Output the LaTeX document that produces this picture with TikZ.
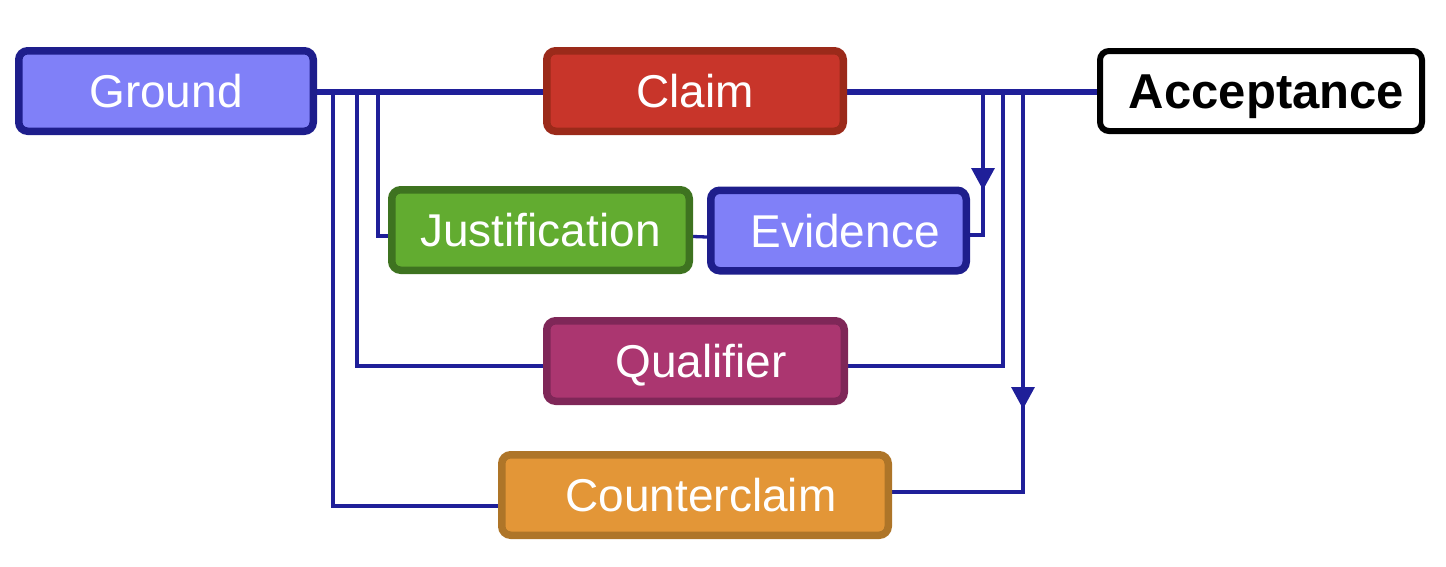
\documentclass[tikz,border=0pt]{standalone}
\usepackage{fontspec}
\setmainfont{Liberation Sans}
\usetikzlibrary{arrows.meta,decorations.markings,backgrounds}
\definecolor{lineblue}{HTML}{1F1F99}
\definecolor{gfill}{HTML}{8080F8}
\definecolor{gdraw}{HTML}{1E1E8C}
\definecolor{cfill}{HTML}{C8352A}
\definecolor{cdraw}{HTML}{9B2A1A}
\definecolor{jfill}{HTML}{62AC30}
\definecolor{jdraw}{HTML}{3E7320}
\definecolor{qfill}{HTML}{AB3670}
\definecolor{qdraw}{HTML}{7F2758}
\definecolor{kfill}{HTML}{E39637}
\definecolor{kdraw}{HTML}{AE7528}
\tikzset{
  box/.style={rounded corners=9pt, line width=7.5pt, inner sep=0pt,
    minimum height=80.5pt, text height=33pt, text depth=0pt,
    font=\fontsize{46}{50}\selectfont, text=white},
  mainline/.style={draw=lineblue, line width=5.5pt},
  thinline/.style={draw=lineblue, line width=3.3pt},
  tipat/.style={postaction={decorate}, decoration={markings,
    mark=at position #1 with {\arrow{Triangle[width=23pt,length=22pt]}}}}
}
\begin{document}
\begin{tikzpicture}[x=1pt,y=1pt]
\useasboundingbox (0,0) rectangle (1446,-566);
\node[box, fill=gfill, draw=gdraw, minimum width=294.5pt] (ground) at (166,-91) {Ground};
\node[box, fill=cfill, draw=cdraw, minimum width=296.5pt] (claim) at (695,-91) {Claim};
\node[box, fill=white, draw=black, line width=6pt, minimum width=322pt, minimum height=80pt,
  text=black, font=\fontsize{49}{52}\selectfont\bfseries, text height=35pt] (acc) at (1261,-91) {\hspace*{11pt}Acceptance};
\node[box, fill=jfill, draw=jdraw, minimum width=297.5pt] (just) at (540.5,-230) {Justification};
\node[box, fill=gfill, draw=gdraw, minimum width=255.5pt] (evid) at (838.5,-230.5) {\hspace*{13pt}Evidence};
\node[box, fill=qfill, draw=qdraw, minimum width=297.5pt] (qual) at (695.5,-361) {\hspace*{11pt}Qualifier};
\node[box, fill=kfill, draw=kdraw, minimum width=386.5pt] (counter) at (695,-495) {\hspace*{12pt}Counterclaim};
\coordinate (l1) at (333,-92);
\coordinate (l2) at (357,-92);
\coordinate (l3) at (378,-92);
\coordinate (r1) at (983,-92);
\coordinate (r2) at (1003,-92);
\coordinate (r3) at (1023,-92);
\begin{pgfonlayer}{background}
\draw[mainline] ([yshift=-1pt]ground.east) -- ([yshift=-1pt]claim.west);
\draw[mainline] ([yshift=-1pt]claim.east) -- ([yshift=-1pt]acc.west);
\draw[thinline] (l1) |- ([yshift=-11pt]counter.west);
\draw[thinline] (l2) |- ([yshift=-5pt]qual.west);
\draw[thinline] (l3) |- ([yshift=-6pt]just.west);
\draw[thinline] ([yshift=-6.5pt]just.east) -- ([yshift=-6.5pt]evid.west);
\draw[thinline, tipat=98pt] (r1) |- ([yshift=-4.5pt]evid.east);
\draw[thinline] (r2) |- ([yshift=-5pt]qual.east);
\draw[thinline, tipat=317pt] (r3) |- ([yshift=3pt]counter.east);
\end{pgfonlayer}
\end{tikzpicture}
\end{document}
